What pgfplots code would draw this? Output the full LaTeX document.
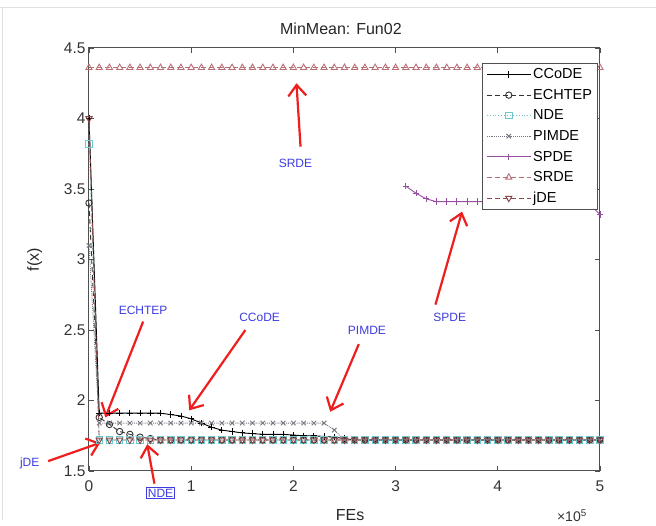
\documentclass[border=0pt]{standalone}
\usepackage{fontspec}
\setmainfont{Liberation Sans}
\usepackage{pgfplots}
\pgfplotsset{compat=1.18}
\usepackage{pgfplotstable}
\usetikzlibrary{arrows.meta}

\definecolor{ndecol}{RGB}{110,200,205}
\definecolor{pimcol}{RGB}{120,120,130}
\definecolor{spdecol}{RGB}{150,80,160}
\definecolor{srdecol}{RGB}{185,110,115}
\definecolor{jdecol}{RGB}{140,70,70}
\definecolor{annblue}{RGB}{60,60,225}
\definecolor{annred}{RGB}{238,30,30}
\definecolor{axgray}{RGB}{80,80,80}

\pgfplotstableread{
x   CCoDE ECHTEP NDE  PIMDE SRDE jDE
0.0 4.00  3.40   3.82 3.10  4.36 4.00
0.1 1.91  1.88   1.72 1.84  4.36 1.72
0.2 1.91  1.83   1.72 1.84  4.36 1.72
0.3 1.91  1.78   1.72 1.84  4.36 1.72
0.4 1.91  1.76   1.72 1.84  4.36 1.72
0.5 1.91  1.74   1.72 1.84  4.36 1.72
0.6 1.91  1.73   1.72 1.84  4.36 1.72
0.7 1.91  1.72   1.72 1.84  4.36 1.72
0.8 1.90  1.72   1.72 1.84  4.36 1.72
0.9 1.89  1.72   1.72 1.84  4.36 1.72
1.0 1.87  1.72   1.72 1.84  4.36 1.72
1.1 1.84  1.72   1.72 1.84  4.36 1.72
1.2 1.81  1.72   1.72 1.84  4.36 1.72
1.3 1.79  1.72   1.72 1.84  4.36 1.72
1.4 1.78  1.72   1.72 1.84  4.36 1.72
1.5 1.77  1.72   1.72 1.84  4.36 1.72
1.6 1.765 1.72   1.72 1.84  4.36 1.72
1.7 1.76  1.72   1.72 1.84  4.36 1.72
1.8 1.76  1.72   1.72 1.84  4.36 1.72
1.9 1.76  1.72   1.72 1.84  4.36 1.72
2.0 1.755 1.72   1.72 1.84  4.36 1.72
2.1 1.75  1.72   1.72 1.84  4.36 1.72
2.2 1.75  1.72   1.72 1.84  4.36 1.72
2.3 1.745 1.72   1.72 1.84  4.36 1.72
2.4 1.74  1.72   1.72 1.79  4.36 1.72
2.5 1.73  1.72   1.72 1.72  4.36 1.72
2.6 1.72  1.72   1.72 1.72  4.36 1.72
2.7 1.72  1.72   1.72 1.72  4.36 1.72
2.8 1.72  1.72   1.72 1.72  4.36 1.72
2.9 1.72  1.72   1.72 1.72  4.36 1.72
3.0 1.72  1.72   1.72 1.72  4.36 1.72
3.1 1.72  1.72   1.72 1.72  4.36 1.72
3.2 1.72  1.72   1.72 1.72  4.36 1.72
3.3 1.72  1.72   1.72 1.72  4.36 1.72
3.4 1.72  1.72   1.72 1.72  4.36 1.72
3.5 1.72  1.72   1.72 1.72  4.36 1.72
3.6 1.72  1.72   1.72 1.72  4.36 1.72
3.7 1.72  1.72   1.72 1.72  4.36 1.72
3.8 1.72  1.72   1.72 1.72  4.36 1.72
3.9 1.72  1.72   1.72 1.72  4.36 1.72
4.0 1.72  1.72   1.72 1.72  4.36 1.72
4.1 1.72  1.72   1.72 1.72  4.36 1.72
4.2 1.72  1.72   1.72 1.72  4.36 1.72
4.3 1.72  1.72   1.72 1.72  4.36 1.72
4.4 1.72  1.72   1.72 1.72  4.36 1.72
4.5 1.72  1.72   1.72 1.72  4.36 1.72
4.6 1.72  1.72   1.72 1.72  4.36 1.72
4.7 1.72  1.72   1.72 1.72  4.36 1.72
4.8 1.72  1.72   1.72 1.72  4.36 1.72
4.9 1.72  1.72   1.72 1.72  4.36 1.72
5.0 1.72  1.72   1.72 1.72  4.36 1.72
}\data

\pgfplotstableread{
x   y
3.1 3.52
3.2 3.47
3.3 3.43
3.4 3.41
3.5 3.41
3.6 3.41
3.7 3.41
3.8 3.41
3.9 3.41
4.0 3.41
4.1 3.41
4.2 3.41
4.3 3.41
4.4 3.41
4.5 3.41
4.6 3.41
4.7 3.41
4.8 3.41
4.9 3.39
5.0 3.32
}\spde

\begin{document}
\begin{tikzpicture}
\useasboundingbox (-89pt,-55pt) rectangle (567pt,471pt);
% faint screenshot frame
\draw[black!12, line width=1pt] (-89pt,463pt) -- (567pt,463pt);
\draw[black!12, line width=1pt] (-86pt,463pt) -- (-86pt,-49pt);
\begin{axis}[
  at={(0,0)}, anchor=south west,
  scale only axis, width=511pt, height=423pt,
  xmin=0, xmax=5, ymin=1.5, ymax=4.5,
  xtick={0,1,2,3,4,5}, ytick={1.5,2,2.5,3,3.5,4,4.5},
  yticklabels={1.5,2,2.5,3,3.5,4,4.5},
  xticklabels={0,1,2,3,4,5},
  tick align=inside, tick pos=both, major tick length=5pt,
  axis line style={axgray, line width=1pt},
  every tick/.style={axgray, line width=0.8pt},
  tick label style={font=\fontsize{15.5}{17}\selectfont, text=black!80},
  xticklabel style={yshift=-6pt},
  clip=false,
  title={MinMean: Fun02},
  title style={font=\fontsize{16}{18}\selectfont, at={(axis description cs:0.493,1.031)}, anchor=center, text=black!85},
  xlabel={FEs}, ylabel={f(x)},
  xlabel style={font=\fontsize{16}{18}\selectfont, at={(axis description cs:0.511,-0.104)}, anchor=center, text=black!85},
  ylabel style={font=\fontsize{16}{18}\selectfont, at={(axis description cs:-0.106,0.5)}, anchor=center, text=black!85},
  legend style={at={(0.996,0.965)}, anchor=north east, draw=axgray, fill=white, line width=0.8pt,
    font=\fontsize{14.5}{15}\selectfont, cells={anchor=west}, row sep=5pt, inner sep=3.5pt},
  legend image code/.code={\draw[mark repeat=2,mark phase=2,#1] plot coordinates {(0pt,0pt) (22pt,0pt) (44pt,0pt)};},
  every axis plot/.append style={line width=0.9pt, mark size=3.2pt},
]
\addplot[black, solid, mark=+, mark options={solid}] table[x=x,y=CCoDE]{\data};
\addlegendentry{CCoDE}
\addplot[black!80, dash pattern=on 5pt off 3pt, mark=o, mark options={solid}] table[x=x,y=ECHTEP]{\data};
\addlegendentry{ECHTEP}
\addplot[ndecol, dotted, mark=square, mark options={solid}] table[x=x,y=NDE]{\data};
\addlegendentry{NDE}
\addplot[pimcol, densely dotted, mark=x, mark options={solid}] table[x=x,y=PIMDE]{\data};
\addlegendentry{PIMDE}
\addplot[spdecol, solid, mark=+, mark options={solid}] table[x=x,y=y]{\spde};
\addlegendentry{SPDE}
\addplot[srdecol, dash pattern=on 5pt off 3pt, mark=triangle, mark options={solid}, mark size=3.6pt] table[x=x,y=SRDE]{\data};
\addlegendentry{SRDE}
\addplot[jdecol, dash pattern=on 5pt off 3pt, mark=triangle, mark options={solid, rotate=180}, mark size=3.6pt] table[x=x,y=jDE]{\data};
\addlegendentry{jDE}

% annotations
\tikzset{ann/.style={text=annblue, font=\fontsize{12}{14}\selectfont},
         arr/.style={annred, line width=2.2pt, -{Straight Barb[length=11pt,width=18pt,line width=2.2pt]}}}
\node[ann] at (axis cs:2.02,3.68) {SRDE};
\draw[arr] (axis cs:2.07,3.80) -- (axis cs:2.03,4.25);
\node[ann] at (axis cs:3.53,2.59) {SPDE};
\draw[arr] (axis cs:3.39,2.68) -- (axis cs:3.65,3.34);
\node[ann] at (axis cs:2.72,2.50) {PIMDE};
\draw[arr] (axis cs:2.64,2.40) -- (axis cs:2.36,1.92);
\node[ann] at (axis cs:1.67,2.59) {CCoDE};
\draw[arr] (axis cs:1.53,2.50) -- (axis cs:0.98,1.93);
\node[ann] at (axis cs:0.53,2.64) {ECHTEP};
\draw[arr] (axis cs:0.53,2.56) -- (axis cs:0.16,1.88);
\node[ann] at (axis cs:-0.58,1.555) {jDE};
\draw[arr] (axis cs:-0.40,1.57) -- (axis cs:0.11,1.70);
\node[ann, draw=annblue, line width=1.5pt, inner sep=1.5pt] at (axis cs:0.70,1.344) {NDE};
\draw[arr] (axis cs:0.64,1.41) -- (axis cs:0.57,1.69);
\node[font=\fontsize{14}{15}\selectfont, text=black!80] at (axis description cs:0.945,-0.105) {×10\textsuperscript{5}};
\end{axis}
\end{tikzpicture}
\end{document}
